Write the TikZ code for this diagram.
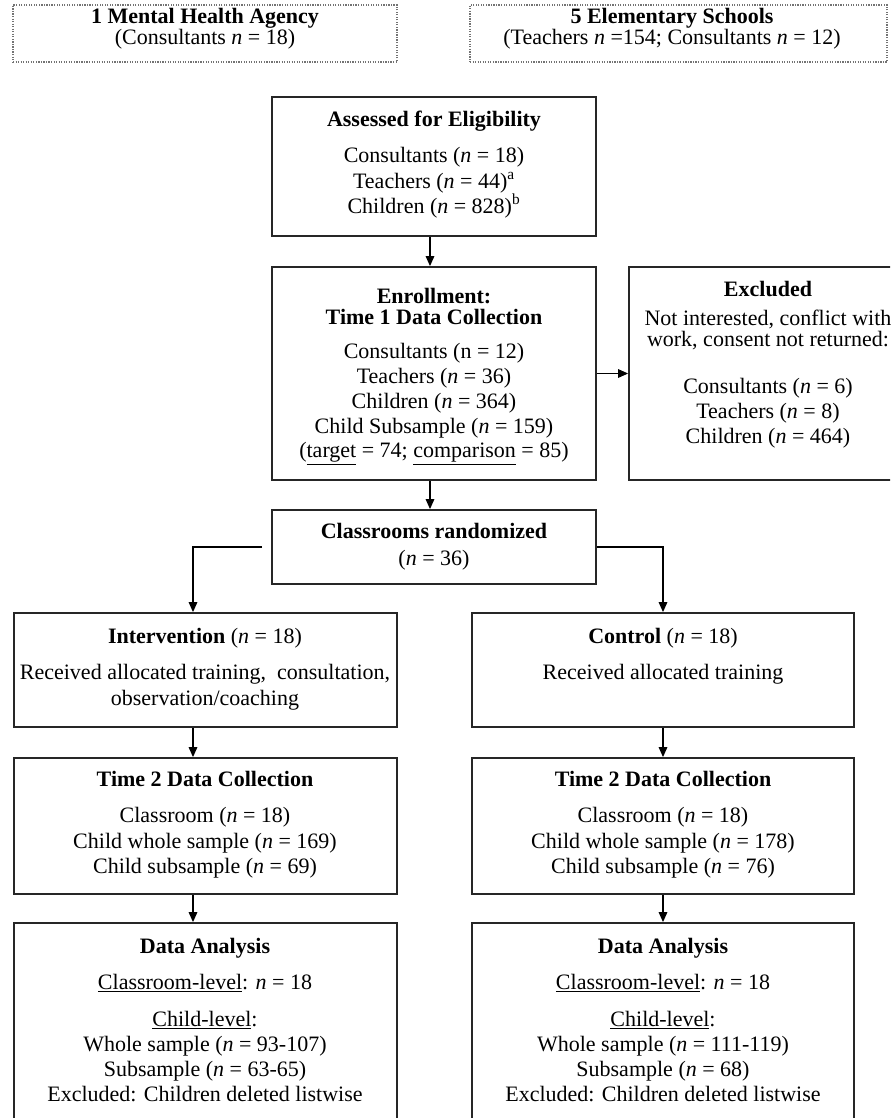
\documentclass[tikz,border=0pt]{standalone}
\usepackage{fontspec}
\setmainfont{Liberation Serif}
\usetikzlibrary{arrows.meta,fit}
\begin{document}
\begin{tikzpicture}[x=0.75pt,y=-0.75pt,
  mainbox/.style={draw=black!85, line width=1.4pt, inner sep=0pt, rectangle},
  dotbox/.style={draw=black!55, densely dotted, line width=0.9pt, inner sep=0pt, rectangle},
  txt/.style={inner sep=0pt, text height=0.7em, text depth=0.2em, font=\fontsize{16.5pt}{19pt}\selectfont},
  arr/.style={draw=black, line width=0.8pt, -{Triangle[length=7.5pt,width=6.5pt]}}
]
\useasboundingbox (0,0) rectangle (890,1118);
\clip (0,0) rectangle (890,1118);

% column coordinates
\coordinate (colL) at (193,0);
\coordinate (colM) at (430,0);
\coordinate (colR) at (663,0);

% boxes
\node[dotbox, fit={(13,5) (397,62)}] (topL) {};
\node[dotbox, fit={(470,5) (887,62)}] (topR) {};
\node[mainbox, fit={(272,97) (596,236)}] (assess) {};
\node[mainbox, fit={(272,267) (596,480)}] (enroll) {};
\node[mainbox, fit={(629,267) (912,480)}] (excl) {};
\node[mainbox, fit={(272,510) (596,584)}] (rand) {};
\node[mainbox, fit={(14,613) (397,727)}] (interv) {};
\node[mainbox, fit={(472,613) (854,727)}] (ctrl) {};
\node[mainbox, fit={(14,758) (397,894)}] (t2L) {};
\node[mainbox, fit={(472,758) (854,894)}] (t2R) {};
\node[mainbox, fit={(14,923) (397,1135)}] (daL) {};
\node[mainbox, fit={(472,923) (854,1135)}] (daR) {};

% texts: top boxes
\node[txt] (tl1) at (205,20) {\textbf{1 Mental Health Agency}};
\node[txt] (tl2) at (205,41) {(Consultants \textit{n} = 18)};
\node[txt] (tr1) at (672,20) {\textbf{5 Elementary Schools}};
\node[txt] (tr2) at (672,41) {(Teachers \textit{n} =154; Consultants \textit{n} = 12)};

% assessed
\node[txt] (as1) at (434,123) {\textbf{Assessed for Eligibility}};
\node[txt] (as2) at (434,159) {Consultants (\textit{n} = 18)};
\node[txt] (as3) at (434,185) {Teachers (\textit{n} = 44)\textsuperscript{a}};
\node[txt] (as4) at (434,210) {Children (\textit{n} = 828)\textsuperscript{b}};

% enrollment
\node[txt] (en1) at (434,300) {\textbf{Enrollment:}};
\node[txt] (en2) at (434,321) {\textbf{Time 1 Data Collection}};
\node[txt] (en3) at (434,355) {Consultants (n = 12)};
\node[txt] (en4) at (434,380) {Teachers (\textit{n} = 36)};
\node[txt] (en5) at (434,405) {Children (\textit{n} = 364)};
\node[txt] (en6) at (434,430) {Child Subsample (\textit{n} = 159)};
\node[txt] (en7) at (434,454) {(\underline{target} = 74; \underline{comparison} = 85)};

% excluded
\node[txt] (ex1) at (768,293) {\textbf{Excluded}};
\node[txt] (ex2) at (768,322) {Not interested, conflict with};
\node[txt] (ex3) at (768,343) {work, consent not returned:};
\node[txt] (ex4) at (768,390) {Consultants (\textit{n} = 6)};
\node[txt] (ex5) at (768,415) {Teachers (\textit{n} = 8)};
\node[txt] (ex6) at (768,440) {Children (\textit{n} = 464)};

% randomized
\node[txt] (ra1) at (434,535) {\textbf{Classrooms randomized}};
\node[txt] (ra2) at (434,562) {(\textit{n} = 36)};

% intervention / control
\node[txt] (iv1) at (205,640) {\textbf{Intervention} (\textit{n} = 18)};
\node[txt] (iv2) at (205,676) {Received allocated training,\ \ consultation,};
\node[txt] (iv3) at (205,702) {observation/coaching};
\node[txt] (ct1) at (663,640) {\textbf{Control} (\textit{n} = 18)};
\node[txt] (ct2) at (663,676) {Received allocated training};

% time 2
\node[txt] (tla) at (205,783) {\textbf{Time 2 Data Collection}};
\node[txt] (tlb) at (205,819) {Classroom (\textit{n} = 18)};
\node[txt] (tlc) at (205,845) {Child whole sample (\textit{n} = 169)};
\node[txt] (tld) at (205,870) {Child subsample (\textit{n} = 69)};
\node[txt] (tra) at (663,783) {\textbf{Time 2 Data Collection}};
\node[txt] (trb) at (663,819) {Classroom (\textit{n} = 18)};
\node[txt] (trc) at (663,845) {Child whole sample (\textit{n} = 178)};
\node[txt] (trd) at (663,870) {Child subsample (\textit{n} = 76)};

% data analysis
\node[txt] (dla) at (205,950) {\textbf{Data Analysis}};
\node[txt] (dlb) at (205,986) {\underline{Classroom-level}: \textit{n} = 18};
\node[txt] (dlc) at (205,1023) {\underline{Child-level}:};
\node[txt] (dld) at (205,1048) {Whole sample (\textit{n} = 93-107)};
\node[txt] (dle) at (205,1073) {Subsample (\textit{n} = 63-65)};
\node[txt] (dlf) at (205,1098) {Excluded: Children deleted listwise};
\node[txt] (dra) at (663,950) {\textbf{Data Analysis}};
\node[txt] (drb) at (663,986) {\underline{Classroom-level}: \textit{n} = 18};
\node[txt] (drc) at (663,1023) {\underline{Child-level}:};
\node[txt] (drd) at (663,1048) {Whole sample (\textit{n} = 111-119)};
\node[txt] (dre) at (663,1073) {Subsample (\textit{n} = 68)};
\node[txt] (drf) at (663,1098) {Excluded: Children deleted listwise};

% connectors
\draw[arr] (assess.south -| colM) -- (enroll.north -| colM);
\draw[arr] (enroll.east) -- (excl.west);
\draw[arr] (enroll.south -| colM) -- (rand.north -| colM);
\draw[arr] ([xshift=-6.75pt]rand.west) -| (interv.north -| colL);
\draw[arr] (rand.east) -| (ctrl.north -| colR);
\draw[arr] (interv.south -| colL) -- (t2L.north -| colL);
\draw[arr] (t2L.south -| colL) -- (daL.north -| colL);
\draw[arr] (ctrl.south -| colR) -- (t2R.north -| colR);
\draw[arr] (t2R.south -| colR) -- (daR.north -| colR);
\end{tikzpicture}
\end{document}
